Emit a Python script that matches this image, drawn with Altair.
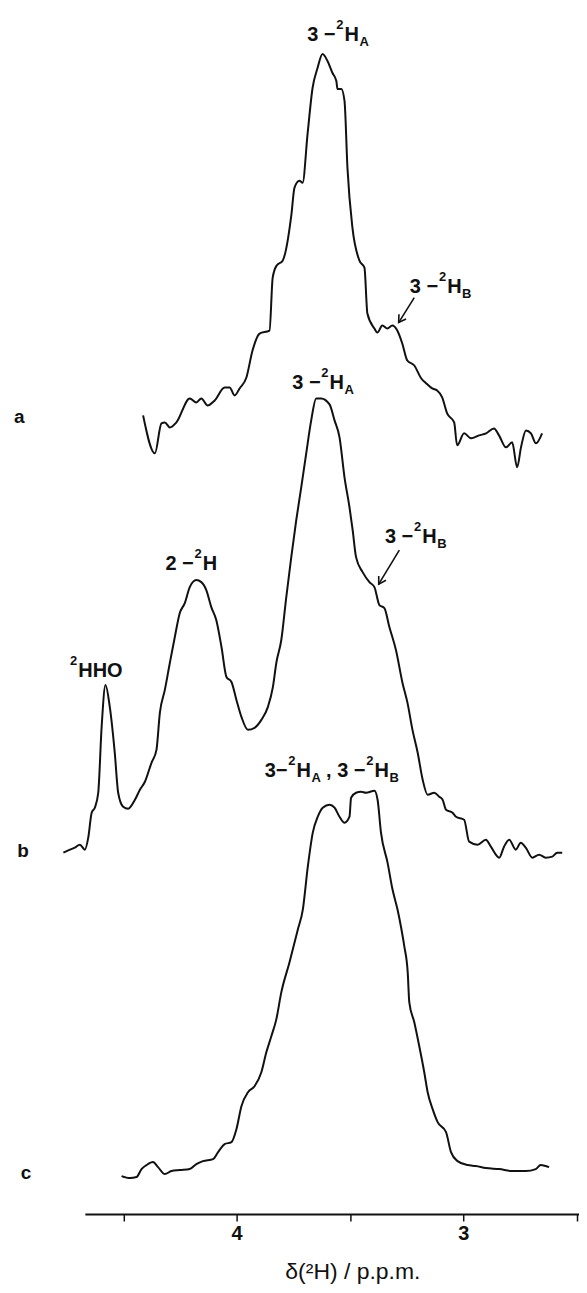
import altair as alt
import pandas as pd

# ---- trace a (chemical shift in p.p.m., stacked height in plot units) ----
a_ppm = [4.413, 4.361, 4.332, 4.317, 4.295, 4.266, 4.207, 4.178, 4.156, 4.128,
         4.097, 4.053, 4.031, 4.009, 3.987, 3.957, 3.930, 3.899, 3.855, 3.841,
         3.824, 3.797, 3.758, 3.745, 3.723, 3.709, 3.687, 3.665, 3.643, 3.621,
         3.599, 3.577, 3.560, 3.555, 3.538, 3.524, 3.511, 3.489, 3.458, 3.436,
         3.423, 3.392, 3.379, 3.357, 3.335, 3.313, 3.291, 3.269, 3.247, 3.216,
         3.185, 3.163, 3.137, 3.115, 3.093, 3.071, 3.040, 3.027, 2.996, 2.965,
         2.930, 2.899, 2.864, 2.842, 2.811, 2.784, 2.762, 2.745, 2.723, 2.701,
         2.679, 2.652]
a_int = [800, 762, 792, 793, 788, 793, 817, 813, 817, 810,
         815, 828, 828, 820, 827, 838, 865, 882, 885, 938,
         950, 955, 1002, 1028, 1035, 1033, 1082, 1128, 1148, 1162,
         1155, 1143, 1135, 1127, 1127, 1115, 1048, 988, 955, 948,
         902, 887, 883, 890, 887, 890, 885, 872, 855, 850,
         837, 832, 827, 825, 818, 802, 793, 770, 782, 777,
         780, 782, 787, 780, 768, 773, 748, 768, 785, 782,
         772, 782]

# ---- trace b ----
b_ppm = [4.765, 4.736, 4.714, 4.692, 4.670, 4.655, 4.640, 4.626, 4.611, 4.596,
         4.579, 4.560, 4.538, 4.523, 4.501, 4.479, 4.449, 4.427, 4.405, 4.376,
         4.354, 4.339, 4.317, 4.295, 4.273, 4.251, 4.229, 4.207, 4.178, 4.156,
         4.134, 4.112, 4.090, 4.067, 4.045, 4.023, 4.001, 3.979, 3.950, 3.921,
         3.891, 3.862, 3.840, 3.825, 3.803, 3.781, 3.759, 3.737, 3.715, 3.693,
         3.671, 3.649, 3.627, 3.590, 3.568, 3.546, 3.524, 3.502, 3.488, 3.473,
         3.444, 3.414, 3.392, 3.370, 3.348, 3.326, 3.297, 3.268, 3.246, 3.224,
         3.201, 3.179, 3.157, 3.128, 3.106, 3.091, 3.076, 3.047, 3.032, 2.996,
         2.974, 2.937, 2.900, 2.878, 2.841, 2.820, 2.797, 2.768, 2.746, 2.724,
         2.695, 2.665, 2.636, 2.607, 2.585, 2.563]
b_int = [362, 365, 367, 370, 365, 377, 402, 407, 422, 488,
         530, 508, 462, 422, 408, 406, 415, 425, 433, 452,
         465, 502, 525, 552, 578, 602, 612, 628, 635, 633,
         625, 608, 595, 568, 538, 533, 515, 498, 485, 487,
         495, 508, 528, 552, 575, 618, 658, 695, 728, 762,
         795, 817, 817, 811, 795, 778, 738, 708, 685, 658,
         643, 633, 628, 610, 607, 588, 565, 532, 512, 485,
         462, 435, 420, 422, 418, 415, 405, 402, 398, 395,
         373, 370, 375, 368, 357, 368, 375, 365, 372, 367,
         357, 360, 357, 358, 362, 362]

# ---- trace c ----
c_ppm = [4.508, 4.471, 4.442, 4.420, 4.398, 4.369, 4.347, 4.317, 4.288, 4.251,
         4.207, 4.178, 4.149, 4.104, 4.082, 4.053, 4.023, 4.001, 3.979, 3.950,
         3.921, 3.891, 3.869, 3.847, 3.825, 3.803, 3.767, 3.730, 3.708, 3.686,
         3.664, 3.642, 3.620, 3.590, 3.568, 3.546, 3.524, 3.502, 3.495, 3.473,
         3.451, 3.429, 3.392, 3.378, 3.363, 3.334, 3.312, 3.290, 3.275, 3.260,
         3.245, 3.238, 3.216, 3.194, 3.172, 3.157, 3.135, 3.113, 3.076, 3.054,
         3.025, 2.981, 2.944, 2.900, 2.841, 2.783, 2.724, 2.680, 2.658, 2.636,
         2.621]
c_int = [38, 36, 37, 45, 49, 52, 47, 40, 43, 44,
         45, 50, 53, 55, 62, 70, 72, 85, 108, 122,
         128, 142, 162, 178, 195, 222, 252, 285, 305, 348,
         382, 398, 407, 410, 407, 398, 392, 398, 417, 422,
         423, 422, 424, 415, 382, 352, 325, 305, 288, 268,
         242, 212, 192, 168, 142, 122, 105, 92, 82, 62,
         53, 49, 48, 46, 45, 43, 43, 45, 49, 48,
         47]

# ---- annotations: prefix + superscript + base + subscript, anchored at base ----
ann_prefix = ["3 −", "3 −", "3 −", "2 −", "3 −", "", "3−", ", 3 −"]
ann_sup = ["2", "2", "2", "2", "2", "2", "2", "2"]
ann_base = ["H", "H", "H", "H", "H", "\u00a0HHO", "H", "H"]
ann_sub = ["A", "B", "A", "", "B", "", "A", "B"]
ann_ppm = [3.524, 3.071, 3.590, 4.150, 3.181, 4.699, 3.736, 3.392]
ann_int = [1175, 923, 826, 645, 672, 538, 438, 438]

trace_names = ["a", "b", "c"]
trace_lab_ppm = [4.960, 4.943, 4.930]
trace_lab_int = [792, 358, 35]

arrow_tail_ppm = [3.216, 3.282]
arrow_tail_int = [918, 665]
arrow_tip_ppm = [3.285, 3.373]
arrow_tip_int = [893, 631]

tick_values = [4.5, 4.0, 3.5, 3.0, 2.5]

# ---- build tables ----
rows = []
for name, xs_, ys_ in [("a", a_ppm, a_int), ("b", b_ppm, b_int), ("c", c_ppm, c_int)]:
    for i, (x, y) in enumerate(zip(xs_, ys_)):
        rows.append({"trace": name, "ppm": x, "h": y, "i": i})
df = pd.DataFrame(rows)

ann = pd.DataFrame({"prefix": ann_prefix, "sup": ann_sup, "base": ann_base,
                    "sub": ann_sub, "ppm": ann_ppm, "h": ann_int})
tl = pd.DataFrame({"text": trace_names, "ppm": trace_lab_ppm, "h": trace_lab_int})
arr = pd.DataFrame({"x1": arrow_tail_ppm, "y1": arrow_tail_int,
                    "x2": arrow_tip_ppm, "y2": arrow_tip_int, "ang": [33, 31]})

FONT = "Liberation Sans"
INK = "#111"
xs = alt.Scale(domain=[2.489, 4.67], reverse=True, nice=False, zero=False)
ys = alt.Scale(domain=[0, 1207], nice=False, zero=False)
X = alt.X("ppm:Q", scale=xs)
Y = alt.Y("h:Q", scale=ys)

xaxis = alt.Axis(
    values=tick_values,
    labelExpr="datum.value == 4 ? '4' : (datum.value == 3 ? '3' : '')",
    grid=False, domainColor=INK, domainWidth=2, tickColor=INK,
    tickWidth=1.5, tickSize=7, labelFont=FONT, labelFontSize=20,
    labelFontWeight="bold", labelColor=INK, labelPadding=3,
    titleFont=FONT, titleFontSize=23, titleFontWeight="normal",
    titleColor=INK, titleX=268, titleY=65, titleBaseline="alphabetic",
    titleAlign="center",
)

lines = alt.Chart(df).mark_line(
    color=INK, strokeWidth=2, strokeJoin="round", interpolate="monotone"
).encode(
    x=alt.X("ppm:Q", scale=xs, axis=xaxis, title="δ(²H) / p.p.m."),
    y=alt.Y("h:Q", scale=ys, axis=None),
    detail="trace:N",
    order="i:Q",
)

base_style = dict(baseline="alphabetic", font=FONT, fontWeight="bold", color=INK)

prefix_txt = alt.Chart(ann).mark_text(align="right", fontSize=20, dx=-9, **base_style).encode(
    x=X, y=Y, text="prefix:N")
sup_txt = alt.Chart(ann).mark_text(align="right", fontSize=13, dx=-1, dy=-12, **base_style).encode(
    x=X, y=Y, text="sup:N")
base_txt = alt.Chart(ann).mark_text(align="left", fontSize=20, **base_style).encode(
    x=X, y=Y, text="base:N")
sub_txt = alt.Chart(ann).mark_text(align="left", fontSize=13, dx=15, dy=5, **base_style).encode(
    x=X, y=Y, text="sub:N")

trace_txt = alt.Chart(tl).mark_text(align="center", fontSize=19, **base_style).encode(
    x=X, y=Y, text="text:N")

shafts = alt.Chart(arr).mark_rule(color=INK, strokeWidth=1.6).encode(
    x=alt.X("x1:Q", scale=xs), y=alt.Y("y1:Q", scale=ys),
    x2="x2:Q", y2="y2:Q",
)

heads = alt.Chart(arr).mark_point(
    shape="M -0.6 -1 L 0 0 L 0.6 -1", filled=False, color=INK,
    strokeWidth=1.6, size=200, opacity=1,
).encode(
    x=alt.X("x2:Q", scale=xs), y=alt.Y("y2:Q", scale=ys),
    angle=alt.Angle("ang:Q", scale=None),
)

chart = alt.layer(lines, prefix_txt, sup_txt, base_txt, sub_txt, trace_txt, shafts, heads).properties(
    width=495, height=1207,
    autosize=alt.AutoSizeParams(type="none"),
    padding={"left": 77, "top": 0, "right": 0, "bottom": 70},
    background="white",
).configure_view(stroke=None)

chart.save("out.html", embed_options={"renderer": "svg", "actions": False})
